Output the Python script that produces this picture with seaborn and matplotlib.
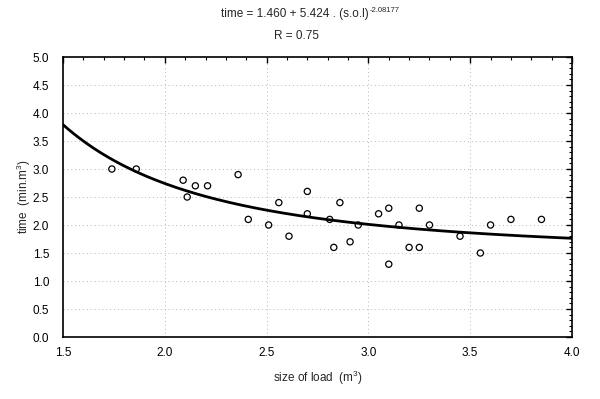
import numpy as np
import pandas as pd
import matplotlib
matplotlib.use("Agg")
import matplotlib.pyplot as plt
import seaborn as sns

# Data
size_of_load = [1.74, 1.86, 2.09, 2.11, 2.15, 2.21, 2.36, 2.41, 2.51, 2.56,
                2.61, 2.70, 2.70, 2.81, 2.83, 2.86, 2.91, 2.95, 3.05, 3.10,
                3.10, 3.15, 3.20, 3.25, 3.25, 3.30, 3.45, 3.55, 3.60, 3.70, 3.85]
time_vals = [3.0, 3.0, 2.8, 2.5, 2.7, 2.7, 2.9, 2.1, 2.0, 2.4,
             1.8, 2.6, 2.2, 2.1, 1.6, 2.4, 1.7, 2.0, 2.2, 2.3,
             1.3, 2.0, 1.6, 1.6, 2.3, 2.0, 1.8, 1.5, 2.0, 2.1, 2.1]

# Fitted model coefficients (from the chart title)
fit_a = 1.460
fit_b = 5.424
fit_c = -2.08177
x_ticks = [1.5, 2.0, 2.5, 3.0, 3.5, 4.0]
y_ticks = [0.0, 0.5, 1.0, 1.5, 2.0, 2.5, 3.0, 3.5, 4.0, 4.5, 5.0]

sns.set_style("white")
plt.rcParams['font.family'] = ['Liberation Sans', 'DejaVu Sans']
plt.rcParams['mathtext.fontset'] = 'custom'
plt.rcParams['mathtext.rm'] = 'Liberation Sans'
plt.rcParams['mathtext.it'] = 'Liberation Sans'
plt.rcParams['mathtext.default'] = 'regular'

W, H = 600, 399
fig = plt.figure(figsize=(W / 100, H / 100), dpi=100)
ax = fig.add_axes([63/W, 1-337/H, (572-63)/W, (337-57)/H])

df = pd.DataFrame({"size": size_of_load, "time": time_vals})
xs = np.linspace(1.5, 4.0, 200)
curve = pd.DataFrame({"size": xs, "time": fit_a + fit_b * xs ** fit_c})

sns.lineplot(data=curve, x="size", y="time", color="black", linewidth=2.0, ax=ax)
sns.scatterplot(data=df, x="size", y="time", s=20, facecolors="none",
                edgecolor="black", linewidth=0.9, marker="o", ax=ax)

ax.set_xlim(1.5, 4.0)
ax.set_ylim(0.0, 5.0)
ax.set_xticks(x_ticks)
ax.set_yticks(y_ticks)
ax.set_xticklabels([f"{v:.1f}" for v in x_ticks])
ax.set_yticklabels([f"{v:.1f}" for v in y_ticks])
ax.xaxis.set_minor_locator(matplotlib.ticker.MultipleLocator(0.1))
ax.yaxis.set_minor_locator(matplotlib.ticker.MultipleLocator(0.1))
ax.tick_params(which="both", direction="in", top=True, right=True,
               labelsize=8.5, colors="black")
ax.tick_params(which="major", length=4, width=1)
ax.tick_params(which="minor", length=2, width=0.8)
ax.tick_params(axis="x", pad=7)
ax.tick_params(axis="y", pad=10)
ax.grid(True, which="major", linestyle=(0, (1, 3)), color="#b5b5b5", linewidth=0.7)
for sp in ax.spines.values():
    sp.set_color("black")
    sp.set_linewidth(1.2)

ax.set_xlabel("size of load  (m$^3$)", fontsize=8.5, labelpad=7)
ax.set_ylabel("time  (min.m$^3$)", fontsize=8.5, labelpad=0)

# Title: base text plus small exponent
base = fig.text(221 / W, 1 - 14 / H, "time = 1.460 + 5.424 . (s.o.l)",
                ha="left", va="center", fontsize=8.5)
fig.canvas.draw()
bb = base.get_window_extent(renderer=fig.canvas.get_renderer())
fig.text(bb.x1 / W + 0.5 / W, (bb.y1 - 3) / H, f"{fit_c:.5f}",
         ha="left", va="center", fontsize=5.5)
fig.text(297 / W, 1 - 36 / H, "R = 0.75", ha="center", va="center", fontsize=8.5)

fig.savefig("out.png", dpi=100)
